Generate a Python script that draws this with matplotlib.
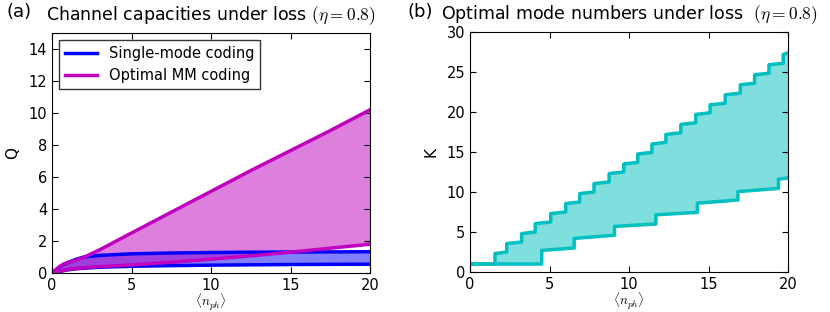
import numpy as np
import matplotlib
matplotlib.use('Agg')
import matplotlib.pyplot as plt

plt.rcParams['mathtext.fontset'] = 'cm'
plt.rcParams['font.family'] = 'DejaVu Sans'

# panel (a): capacity bands
n_a = [0, 0.25, 0.5, 0.75, 1, 1.5, 2, 3, 5, 7.5, 10, 12.5, 15, 17.5, 20]
sm_hi = [0, 0.2, 0.4, 0.55, 0.66, 0.85, 1.0, 1.1, 1.2, 1.25, 1.28, 1.3, 1.31, 1.32, 1.33]
sm_lo = [0, 0.05, 0.1, 0.15, 0.2, 0.26, 0.3, 0.36, 0.42, 0.46, 0.49, 0.51, 0.53, 0.54, 0.55]
mm_hi = [0, 0.22, 0.42, 0.56, 0.66, 0.8, 0.98, 1.45, 2.5, 3.8, 5.1, 6.4, 7.65, 8.9, 10.2]
mm_lo = [0, 0.06, 0.12, 0.17, 0.22, 0.28, 0.33, 0.4, 0.5, 0.67, 0.86, 1.07, 1.3, 1.55, 1.8]

# panel (b): optimal mode numbers (step edges and value at start/end of each step)
up_x = [0, 1.57, 2.31, 3.25, 4.1, 5.08, 6.02, 6.9, 7.8, 8.75, 9.67, 10.55, 11.44,
        12.32, 13.26, 14.2, 15.1, 16.05, 17.0, 17.9, 18.8, 19.7, 20]
up_v0 = [1, 2.3, 3.55, 4.8, 6.05, 7.3, 8.55, 9.8, 11.05, 12.3, 13.5, 14.75, 16.0,
         17.2, 18.45, 19.7, 20.9, 22.15, 23.4, 24.65, 25.9, 27.2]
up_v1 = [1, 2.5, 3.75, 5.0, 6.25, 7.5, 8.75, 10.0, 11.25, 12.5, 13.7, 14.95, 16.2,
         17.4, 18.65, 19.9, 21.1, 22.35, 23.6, 24.85, 26.1, 27.4]
lo_x = [0, 4.51, 6.55, 9.09, 11.69, 14.3, 16.85, 19.4, 20]
lo_v0 = [1, 2.7, 4.2, 5.7, 7.15, 8.6, 10.05, 11.6]
lo_v1 = [1, 3.0, 4.6, 6.0, 7.45, 9.0, 10.45, 11.75]


def steps(xe, v0, v1):
    xs, ys = [], []
    for i in range(len(v0)):
        xs += [xe[i], xe[i + 1]]
        ys += [v0[i], v1[i]]
    return np.array(xs), np.array(ys)


fig = plt.figure(figsize=(8.3, 3.12), dpi=100)
ax1 = fig.add_axes([52 / 830, 1 - 273 / 312, 318 / 830, 240 / 312])
ax2 = fig.add_axes([470 / 830, 1 - 272 / 312, 318 / 830, 240 / 312])

ax1.fill_between(n_a, sm_lo, sm_hi, color='#0000ff', alpha=0.5, lw=0)
ax1.plot(n_a, sm_hi, color='#0000ff', lw=2.5, label='Single-mode coding')
ax1.plot(n_a, sm_lo, color='#0000ff', lw=2.5)
ax1.fill_between(n_a, mm_lo, mm_hi, color='#bf00bf', alpha=0.5, lw=0)
ax1.plot(n_a, mm_hi, color='#bf00bf', lw=2.5, label='Optimal MM coding')
ax1.plot(n_a, mm_lo, color='#bf00bf', lw=2.5)
ax1.set_xlim(0, 20)
ax1.set_ylim(0, 15)
ax1.set_yticks(range(0, 15, 2))
ax1.set_xticks(range(0, 21, 5))
ax1.set_ylabel('Q', fontsize=11, labelpad=6)
ax1.set_xlabel(r'$\langle n_{ph}\rangle$', fontsize=9.5, labelpad=-0.5)
leg = ax1.legend(loc='upper left', fancybox=False, fontsize=10.5, handlelength=2.2,
                 borderaxespad=0.5)
leg.get_frame().set_edgecolor('black')
ax1.set_title(r'Channel capacities under loss $(\eta=0.8)$', fontsize=12.5, pad=9)

ux, uy = steps(up_x, up_v0, up_v1)
lx, ly = steps(lo_x, lo_v0, lo_v1)
ax2.fill(np.r_[ux, lx[::-1]], np.r_[uy, ly[::-1]], color='#00bfbf', alpha=0.5, lw=0)
ax2.plot(ux, uy, color='#00bfbf', lw=2.5)
ax2.plot(lx, ly, color='#00bfbf', lw=2.5)
ax2.set_xlim(0, 20)
ax2.set_ylim(0, 30)
ax2.set_xticks(range(0, 21, 5))
ax2.set_yticks(range(0, 31, 5))
ax2.set_ylabel('K', fontsize=11, labelpad=6)
ax2.set_xlabel(r'$\langle n_{ph}\rangle$', fontsize=9.5, labelpad=-0.5)
ax2.set_title(r'Optimal mode numbers under loss  $(\eta=0.8)$', fontsize=12.5, pad=9)

for ax in (ax1, ax2):
    ax.tick_params(direction='in', top=True, right=True, labelsize=10.5, length=4)

fig.text(7 / 830, 1 - 17 / 312, '(a)', fontsize=13)
fig.text(407 / 830, 1 - 17 / 312, '(b)', fontsize=13)

fig.savefig('out.png', dpi=100)
